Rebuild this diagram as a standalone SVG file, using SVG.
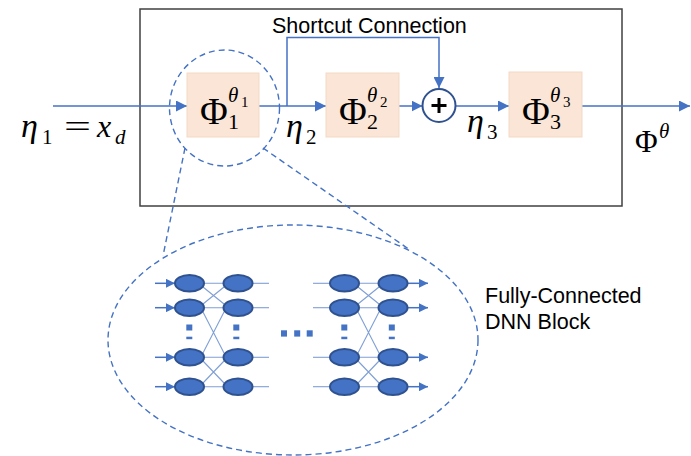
<svg xmlns="http://www.w3.org/2000/svg" width="691" height="456" viewBox="0 0 691 456">
<defs>
<style>
.conn{stroke:#4472C4;stroke-width:1.5;fill:none}
.thin{stroke:#7F9FD6;stroke-width:1.1;fill:none}
.dash{stroke:#4472C4;stroke-width:1.4;fill:none;stroke-dasharray:6 4}
.box{fill:#FBE5D6;stroke:#F3D9C6;stroke-width:1}
.neu{fill:#4472C4;stroke:#2F528F;stroke-width:2}
.sq{fill:#4472C4}
.m{font-family:"Liberation Serif","DejaVu Serif",serif;fill:#000}
.i{font-style:italic}
.lbl{font-family:"Liberation Sans",Arial,sans-serif;font-size:21.5px;fill:#000}
</style>
<marker id="ah" viewBox="0 0 10 10" refX="10" refY="5" markerWidth="11" markerHeight="11" markerUnits="userSpaceOnUse" orient="auto">
<path d="M0,0 L10,5 L0,10 Z" fill="#4472C4"/>
</marker>
<marker id="ahs" viewBox="0 0 10 10" refX="10" refY="5" markerWidth="9" markerHeight="9" markerUnits="userSpaceOnUse" orient="auto">
<path d="M0,0 L10,5 L0,10 Z" fill="#4472C4"/>
</marker>
</defs>
<rect width="691" height="456" fill="#fff"/>
<g id="frame"><rect x="140" y="9" width="482" height="197" fill="none" stroke="#404040" stroke-width="1.5"/></g>

<g id="connectors">
<line class="conn" x1="53" y1="106" x2="187" y2="106" marker-end="url(#ah)"/>
<line class="conn" x1="259" y1="106" x2="326" y2="106" marker-end="url(#ah)"/>
<polyline class="conn" points="287,106 287,37.5 439,37.5 439,88" marker-end="url(#ah)"/>
<line class="conn" x1="399" y1="106" x2="422.5" y2="106" marker-end="url(#ah)"/>
<line class="conn" x1="456" y1="106" x2="509" y2="106" marker-end="url(#ah)"/>
<line class="conn" x1="582" y1="106" x2="690" y2="106" marker-end="url(#ah)"/>
<line class="dash" x1="185" y1="148" x2="163" y2="256"/>
<line class="dash" x1="263" y1="148" x2="410" y2="250"/>
</g>

<g id="zoom-circle"><ellipse class="dash" cx="224.5" cy="108" rx="55" ry="58"/></g>

<g id="phi1"><rect class="box" x="187" y="73" width="72" height="64"/>
<text class="m" x="200" y="124" font-size="38">Φ</text>
<text class="m" x="228" y="129" font-size="22">1</text>
<text class="m i" x="228" y="102" font-size="21">θ</text>
<text class="m" x="241" y="107" font-size="15">1</text></g>

<g id="phi2"><rect class="box" x="326" y="73" width="73" height="64"/>
<text class="m" x="339" y="124" font-size="38">Φ</text>
<text class="m" x="367" y="129" font-size="22">2</text>
<text class="m i" x="367" y="102" font-size="21">θ</text>
<text class="m" x="380" y="107" font-size="15">2</text></g>

<g id="phi3"><rect class="box" x="509" y="72" width="73" height="65"/>
<text class="m" x="522" y="124" font-size="38">Φ</text>
<text class="m" x="550" y="129" font-size="22">3</text>
<text class="m i" x="550" y="102" font-size="21">θ</text>
<text class="m" x="563" y="107" font-size="15">3</text></g>

<g id="sum"><circle cx="439" cy="105.5" r="16.5" fill="#fff" stroke="#2F528F" stroke-width="2"/>
<path d="M431.5,105.5 H446.5 M439,98 V113" stroke="#000" stroke-width="3"/></g>

<g id="label-shortcut"><text class="lbl" x="272" y="33">Shortcut Connection</text></g>

<g id="label-eta1">
<text class="m i" x="21" y="137" font-size="34">η</text>
<text class="m" x="42" y="144" font-size="21">1</text>
<text class="m" x="64" y="137" font-size="32" textLength="27" lengthAdjust="spacingAndGlyphs">=</text>
<text class="m i" x="97" y="137" font-size="32">x</text>
<text class="m i" x="115" y="144" font-size="21">d</text>
</g>
<g id="label-eta2"><text class="m i" x="286" y="137" font-size="34">η</text><text class="m" x="306" y="144" font-size="21">2</text></g>
<g id="label-eta3"><text class="m i" x="467" y="132" font-size="34">η</text><text class="m" x="487" y="139" font-size="21">3</text></g>
<g id="label-out"><text class="m" x="635" y="152" font-size="31">Φ</text><text class="m i" x="659" y="138" font-size="21">θ</text></g>

<g id="dnn-block">
<ellipse class="dash" cx="293" cy="340" rx="185" ry="115" stroke-dasharray="5 3.5" stroke-width="1.3"/>
<g id="dnn-edges">
<line class="conn" x1="155" y1="283.3" x2="175" y2="283.3" marker-end="url(#ahs)"/>
<line class="conn" x1="155" y1="307.7" x2="175" y2="307.7" marker-end="url(#ahs)"/>
<line class="conn" x1="155" y1="357.3" x2="175" y2="357.3" marker-end="url(#ahs)"/>
<line class="conn" x1="155" y1="386.7" x2="175" y2="386.7" marker-end="url(#ahs)"/>
<line class="thin" x1="253" y1="283.3" x2="269" y2="283.3"/>
<line class="thin" x1="253" y1="307.7" x2="269" y2="307.7"/>
<line class="thin" x1="253" y1="357.3" x2="269" y2="357.3"/>
<line class="thin" x1="253" y1="386.7" x2="269" y2="386.7"/>
<line class="thin" x1="313" y1="283.3" x2="330" y2="283.3"/>
<line class="thin" x1="313" y1="307.7" x2="330" y2="307.7"/>
<line class="thin" x1="313" y1="357.3" x2="330" y2="357.3"/>
<line class="thin" x1="313" y1="386.7" x2="330" y2="386.7"/>
<line class="conn" x1="408" y1="283.3" x2="428" y2="283.3" marker-end="url(#ahs)"/>
<line class="conn" x1="408" y1="307.7" x2="428" y2="307.7" marker-end="url(#ahs)"/>
<line class="conn" x1="408" y1="357.3" x2="428" y2="357.3" marker-end="url(#ahs)"/>
<line class="conn" x1="408" y1="386.7" x2="428" y2="386.7" marker-end="url(#ahs)"/>
<g id="mesh1" class="thin">
<path d="M204,283.3 H223 M204,307.7 H223 M204,357.3 H223 M204,386.7 H223 M203,287 L224,304 M203,304 L224,287 M203,312 L224,353 M203,353 L224,312 M203,361 L224,383 M203,383 L224,361"/>
</g>
<g id="mesh2" class="thin">
<path d="M359,283.3 H378 M359,307.7 H378 M359,357.3 H378 M359,386.7 H378 M358,287 L379,304 M358,304 L379,287 M358,312 L379,353 M358,353 L379,312 M358,361 L379,383 M358,383 L379,361"/>
</g>
</g>
<g id="neurons">
<ellipse class="neu" cx="189.5" cy="283.3" rx="14.5" ry="8.3"/>
<ellipse class="neu" cx="189.5" cy="307.7" rx="14.5" ry="8.3"/>
<ellipse class="neu" cx="189.5" cy="357.3" rx="14.5" ry="8.3"/>
<ellipse class="neu" cx="189.5" cy="386.7" rx="14.5" ry="8.3"/>
<ellipse class="neu" cx="238" cy="283.3" rx="14.5" ry="8.3"/>
<ellipse class="neu" cx="238" cy="307.7" rx="14.5" ry="8.3"/>
<ellipse class="neu" cx="238" cy="357.3" rx="14.5" ry="8.3"/>
<ellipse class="neu" cx="238" cy="386.7" rx="14.5" ry="8.3"/>
<ellipse class="neu" cx="344.5" cy="283.3" rx="14.5" ry="8.3"/>
<ellipse class="neu" cx="344.5" cy="307.7" rx="14.5" ry="8.3"/>
<ellipse class="neu" cx="344.5" cy="357.3" rx="14.5" ry="8.3"/>
<ellipse class="neu" cx="344.5" cy="386.7" rx="14.5" ry="8.3"/>
<ellipse class="neu" cx="393" cy="283.3" rx="14.5" ry="8.3"/>
<ellipse class="neu" cx="393" cy="307.7" rx="14.5" ry="8.3"/>
<ellipse class="neu" cx="393" cy="357.3" rx="14.5" ry="8.3"/>
<ellipse class="neu" cx="393" cy="386.7" rx="14.5" ry="8.3"/>
</g>
<g id="dots">
<rect class="sq" x="186.3" y="324.5" width="6" height="6"/><rect class="sq" x="186.3" y="336.7" width="6" height="2.5"/>
<rect class="sq" x="233.3" y="324.5" width="6" height="6"/><rect class="sq" x="233.3" y="336.7" width="6" height="2.5"/>
<rect class="sq" x="341.3" y="324.5" width="6" height="6"/><rect class="sq" x="341.3" y="336.7" width="6" height="2.5"/>
<rect class="sq" x="388.8" y="324.5" width="6" height="6"/><rect class="sq" x="388.8" y="336.7" width="6" height="2.5"/>
<rect class="sq" x="281" y="330.3" width="6" height="6.3"/>
<rect class="sq" x="294.2" y="330.3" width="6" height="6.3"/>
<rect class="sq" x="306.7" y="330.3" width="6" height="6.3"/>
</g>
</g>
<g id="label-dnn">
<text class="lbl" x="485" y="302.5">Fully-Connected</text>
<text class="lbl" x="485" y="329">DNN Block</text>
</g>
</svg>
